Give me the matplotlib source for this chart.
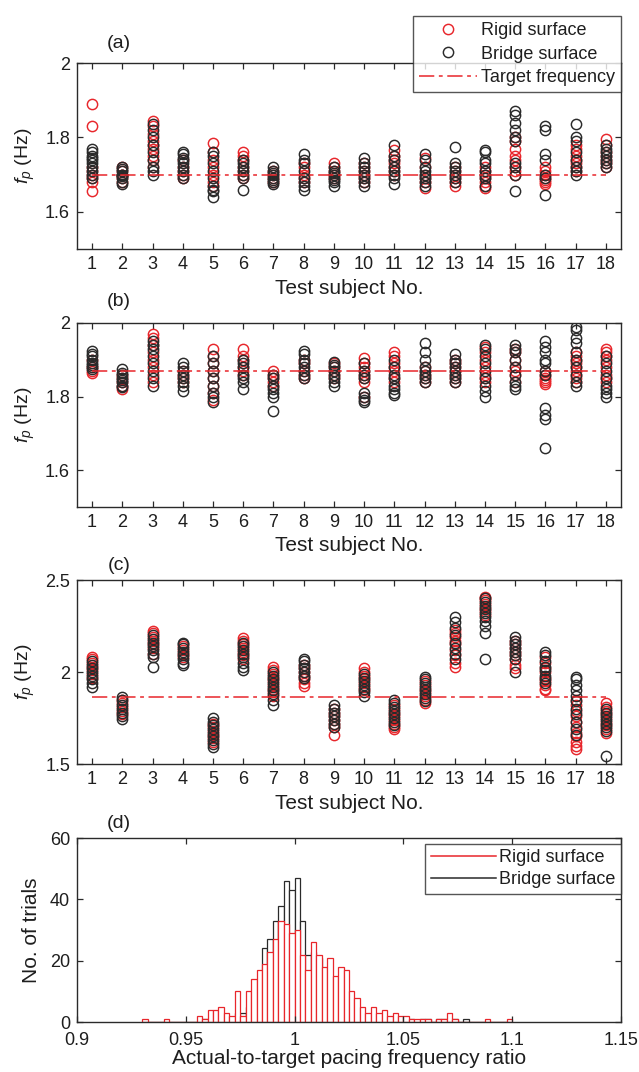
import matplotlib
matplotlib.use("Agg")
import matplotlib.pyplot as plt
from matplotlib.lines import Line2D
import numpy as np

plt.rcParams['font.family'] = ['Liberation Sans', 'DejaVu Sans']
plt.rcParams['mathtext.fontset'] = 'custom'
plt.rcParams['mathtext.it'] = 'Liberation Sans:italic'
plt.rcParams['mathtext.rm'] = 'Liberation Sans'
plt.rcParams['font.size'] = 13

RED = '#e8262b'
BLACK = '#2a2a2a'
TXT = '#1e1e1e'

subjects = list(range(1, 19))

# ---- panel (a): pacing frequency, target 1.70 Hz
a_target = 1.70
a_rigid = [
    [1.89, 1.83, 1.72, 1.70, 1.69, 1.68, 1.655, 1.71],
    [1.71, 1.70, 1.69, 1.70, 1.68, 1.72],
    [1.845, 1.83, 1.81, 1.79, 1.78, 1.77, 1.75, 1.74, 1.72],
    [1.74, 1.72, 1.71, 1.70, 1.69],
    [1.785, 1.76, 1.74, 1.72, 1.70, 1.68, 1.67],
    [1.76, 1.75, 1.74, 1.72, 1.71, 1.70, 1.69],
    [1.70, 1.69, 1.68, 1.71],
    [1.73, 1.72, 1.70, 1.69, 1.68],
    [1.73, 1.72, 1.71, 1.70, 1.69],
    [1.73, 1.72, 1.71, 1.70, 1.69, 1.68],
    [1.765, 1.75, 1.74, 1.73, 1.72, 1.71, 1.70],
    [1.745, 1.72, 1.70, 1.69, 1.68, 1.665],
    [1.72, 1.71, 1.70, 1.69, 1.68, 1.67],
    [1.72, 1.71, 1.70, 1.69, 1.68, 1.67, 1.665],
    [1.80, 1.79, 1.77, 1.75, 1.74, 1.72, 1.71, 1.70],
    [1.72, 1.71, 1.70, 1.69, 1.685, 1.68, 1.675],
    [1.78, 1.77, 1.75, 1.74, 1.73, 1.72, 1.71],
    [1.795, 1.78, 1.76, 1.75, 1.74, 1.73, 1.72],
]
a_bridge = [
    [1.77, 1.76, 1.75, 1.745, 1.74, 1.73, 1.72, 1.71, 1.70, 1.69],
    [1.72, 1.715, 1.71, 1.70, 1.695, 1.69, 1.68, 1.675, 1.70],
    [1.835, 1.82, 1.80, 1.78, 1.76, 1.74, 1.72, 1.71, 1.70],
    [1.76, 1.755, 1.745, 1.74, 1.73, 1.72, 1.71, 1.70, 1.69],
    [1.76, 1.75, 1.73, 1.71, 1.69, 1.67, 1.66, 1.655, 1.64],
    [1.74, 1.73, 1.72, 1.71, 1.70, 1.69, 1.66],
    [1.72, 1.71, 1.705, 1.70, 1.69, 1.685, 1.68, 1.675],
    [1.755, 1.74, 1.73, 1.71, 1.69, 1.68, 1.67, 1.66],
    [1.72, 1.71, 1.705, 1.70, 1.69, 1.685, 1.68, 1.67],
    [1.745, 1.73, 1.72, 1.71, 1.70, 1.69, 1.68, 1.67],
    [1.78, 1.75, 1.74, 1.72, 1.71, 1.70, 1.69, 1.675],
    [1.755, 1.74, 1.72, 1.71, 1.70, 1.69, 1.68, 1.67],
    [1.775, 1.73, 1.72, 1.71, 1.70, 1.69, 1.68],
    [1.765, 1.76, 1.74, 1.73, 1.71, 1.70, 1.69, 1.67],
    [1.87, 1.86, 1.84, 1.82, 1.80, 1.79, 1.73, 1.72, 1.70, 1.655],
    [1.83, 1.82, 1.755, 1.74, 1.70, 1.69, 1.645],
    [1.835, 1.80, 1.79, 1.76, 1.74, 1.72, 1.71, 1.70],
    [1.78, 1.77, 1.76, 1.75, 1.74, 1.73, 1.72],
]

# ---- panel (b): target 1.87 Hz
b_target = 1.87
b_rigid = [
    [1.90, 1.88, 1.87, 1.865],
    [1.86, 1.85, 1.84, 1.83, 1.82],
    [1.97, 1.96, 1.94, 1.92, 1.90, 1.88, 1.86, 1.84],
    [1.87, 1.86, 1.85, 1.84],
    [1.93, 1.91, 1.89, 1.87, 1.85, 1.83, 1.81, 1.79],
    [1.93, 1.91, 1.90, 1.88, 1.87, 1.86],
    [1.87, 1.86, 1.85, 1.84, 1.83],
    [1.90, 1.89, 1.87, 1.86, 1.85],
    [1.89, 1.88, 1.87, 1.86, 1.85],
    [1.905, 1.89, 1.88, 1.87, 1.86, 1.85, 1.84, 1.80],
    [1.92, 1.91, 1.89, 1.88, 1.87, 1.85, 1.84],
    [1.88, 1.87, 1.86, 1.85, 1.84],
    [1.90, 1.89, 1.88, 1.87, 1.86, 1.85, 1.84],
    [1.935, 1.92, 1.90, 1.88, 1.86, 1.85, 1.84],
    [1.93, 1.92, 1.90, 1.88, 1.87, 1.86, 1.84],
    [1.87, 1.86, 1.85, 1.845, 1.84, 1.835],
    [1.92, 1.91, 1.90, 1.89, 1.88, 1.87, 1.86, 1.85, 1.84],
    [1.93, 1.92, 1.91, 1.90, 1.88, 1.86, 1.85, 1.84],
]
b_bridge = [
    [1.925, 1.915, 1.91, 1.90, 1.89, 1.885, 1.88, 1.875],
    [1.875, 1.865, 1.86, 1.85, 1.845, 1.84, 1.83, 1.825],
    [1.95, 1.94, 1.93, 1.91, 1.89, 1.87, 1.85, 1.83],
    [1.89, 1.88, 1.87, 1.86, 1.85, 1.84, 1.83, 1.815],
    [1.91, 1.89, 1.87, 1.85, 1.83, 1.81, 1.80, 1.785],
    [1.90, 1.89, 1.88, 1.86, 1.85, 1.84, 1.82],
    [1.86, 1.85, 1.83, 1.82, 1.81, 1.80, 1.76],
    [1.925, 1.915, 1.90, 1.89, 1.88, 1.87, 1.86, 1.85],
    [1.895, 1.885, 1.88, 1.87, 1.86, 1.85, 1.84, 1.83],
    [1.89, 1.87, 1.86, 1.85, 1.81, 1.80, 1.79, 1.785],
    [1.90, 1.88, 1.86, 1.85, 1.83, 1.82, 1.81, 1.805],
    [1.945, 1.92, 1.90, 1.88, 1.87, 1.86, 1.85, 1.84],
    [1.915, 1.90, 1.89, 1.88, 1.87, 1.86, 1.85, 1.84],
    [1.94, 1.93, 1.91, 1.89, 1.87, 1.85, 1.83, 1.815, 1.80],
    [1.94, 1.93, 1.92, 1.90, 1.88, 1.86, 1.84, 1.83, 1.82],
    [1.95, 1.935, 1.92, 1.90, 1.89, 1.87, 1.86, 1.77, 1.75, 1.74, 1.66],
    [1.99, 1.98, 1.96, 1.945, 1.92, 1.90, 1.88, 1.86, 1.84, 1.83],
    [1.91, 1.89, 1.87, 1.85, 1.83, 1.82, 1.81, 1.80],
]

# ---- panel (c): target 1.87 Hz
c_target = 1.866
c_rigid = [
    [2.08, 2.07, 2.05, 2.03, 2.01, 1.99, 1.97],
    [1.85, 1.83, 1.81, 1.79, 1.77],
    [2.225, 2.21, 2.19, 2.17, 2.15, 2.13, 2.10],
    [2.14, 2.12, 2.10, 2.08],
    [1.72, 1.70, 1.68, 1.66, 1.64, 1.62],
    [2.185, 2.17, 2.15, 2.13, 2.11, 2.09, 2.07],
    [2.03, 2.01, 1.99, 1.97, 1.95, 1.93, 1.91, 1.89, 1.87],
    [2.04, 2.02, 2.00, 1.98, 1.96, 1.94, 1.925],
    [1.80, 1.78, 1.76, 1.74, 1.72, 1.70, 1.66],
    [2.02, 2.00, 1.98, 1.96, 1.94, 1.92, 1.90],
    [1.82, 1.80, 1.78, 1.76, 1.74, 1.72, 1.70, 1.69],
    [1.95, 1.93, 1.91, 1.89, 1.87, 1.85, 1.83],
    [2.23, 2.21, 2.19, 2.17, 2.15, 2.12, 2.09, 2.05, 2.03],
    [2.41, 2.40, 2.39, 2.37, 2.35, 2.33, 2.31],
    [2.17, 2.15, 2.13, 2.11, 2.09, 2.07, 2.04, 2.02],
    [2.08, 2.05, 2.02, 2.00, 1.97, 1.95, 1.93, 1.91, 1.90],
    [1.85, 1.82, 1.79, 1.76, 1.73, 1.70, 1.67, 1.65, 1.62, 1.60, 1.58],
    [1.83, 1.81, 1.79, 1.77, 1.75, 1.73, 1.71, 1.69, 1.67],
]
c_bridge = [
    [2.06, 2.04, 2.02, 2.00, 1.98, 1.96, 1.94, 1.92],
    [1.865, 1.85, 1.82, 1.80, 1.78, 1.76, 1.745],
    [2.20, 2.18, 2.16, 2.14, 2.12, 2.10, 2.08, 2.03],
    [2.16, 2.15, 2.13, 2.11, 2.09, 2.07, 2.05, 2.04],
    [1.75, 1.73, 1.71, 1.69, 1.67, 1.65, 1.63, 1.61, 1.59],
    [2.16, 2.14, 2.12, 2.10, 2.08, 2.05, 2.03, 2.01],
    [2.00, 1.98, 1.96, 1.94, 1.92, 1.90, 1.88, 1.85, 1.82],
    [2.07, 2.06, 2.04, 2.02, 2.00, 1.98, 1.97],
    [1.82, 1.80, 1.78, 1.76, 1.74, 1.72, 1.70],
    [1.99, 1.97, 1.95, 1.93, 1.91, 1.89, 1.87],
    [1.85, 1.83, 1.81, 1.79, 1.77, 1.75, 1.73, 1.71],
    [1.975, 1.96, 1.94, 1.92, 1.90, 1.88, 1.86, 1.84],
    [2.30, 2.27, 2.24, 2.20, 2.16, 2.13, 2.10, 2.07],
    [2.40, 2.38, 2.36, 2.34, 2.32, 2.30, 2.28, 2.25, 2.21, 2.07],
    [2.19, 2.17, 2.15, 2.13, 2.11, 2.09, 2.07, 2.00],
    [2.11, 2.09, 2.06, 2.03, 2.01, 1.98, 1.96, 1.94],
    [1.975, 1.96, 1.93, 1.90, 1.87, 1.84, 1.80, 1.77, 1.73, 1.69, 1.66],
    [1.80, 1.78, 1.76, 1.74, 1.72, 1.70, 1.68, 1.545],
]

# ---- panel (d): histogram of actual-to-target ratio, bins of 0.0025 starting at 0.93
bin_width = 0.0025
rigid_counts = [1, 0, 0, 0, 1, 0, 0, 0, 0, 0,
                2, 1, 4, 4, 5, 3, 2, 10, 2, 10,
                14, 17, 19, 23, 27, 33, 32, 29, 30, 22,
                17, 26, 22, 18, 21, 15, 18, 17, 10, 8,
                5, 3, 5, 3, 4, 2, 3, 2, 2, 1,
                1, 1, 1, 0, 1, 1, 3, 1, 0, 0,
                0, 0, 0, 1, 0, 0, 0, 1]
bridge_counts = [0, 0, 0, 0, 0, 0, 0, 0, 0, 0,
                 0, 1, 1, 2, 1, 2, 1, 3, 3, 5,
                 9, 9, 24, 27, 33, 38, 46, 43, 47, 33,
                 22, 23, 21, 15, 13, 7, 13, 10, 8, 4,
                 3, 2, 2, 1, 2, 1, 1, 1, 1, 1,
                 0, 1, 1, 0, 1, 1, 1, 1, 0, 1,
                 0, 0, 0, 0, 0, 0, 0, 0]
bin_lefts = 0.93 + bin_width * np.arange(len(rigid_counts))

fig = plt.figure(figsize=(6.39, 10.72), dpi=100)
L, W = 77 / 639, 544 / 639
rects = [(L, 0.7677, W, 0.1735), (L, 0.5271, W, 0.1716),
         (L, 0.2873, W, 0.1716), (L, 0.0466, W, 0.1716)]
axes = [fig.add_axes(r) for r in rects]

LABEL_FS = 15


def style(ax):
    for s in ax.spines.values():
        s.set_color(BLACK)
        s.set_linewidth(1.0)
    ax.tick_params(direction='in', top=True, right=True, length=4,
                   width=0.9, colors=BLACK, labelcolor=TXT, labelsize=13, pad=5)


dashdot = (0, (10, 3, 2.5, 3))
MS, MEW = 7.4, 1.05
panels = [(axes[0], a_rigid, a_bridge, a_target, (1.5, 2.0), [1.6, 1.8, 2.0], ['1.6', '1.8', '2']),
          (axes[1], b_rigid, b_bridge, b_target, (1.5, 2.0), [1.6, 1.8, 2.0], ['1.6', '1.8', '2']),
          (axes[2], c_rigid, c_bridge, c_target, (1.5, 2.5), [1.5, 2.0, 2.5], ['1.5', '2', '2.5'])]

for ax, rig, bri, tgt, ylim, yt, ytl in panels:
    for s, vals in zip(subjects, rig):
        ax.plot([s] * len(vals), vals, 'o', ms=MS, mfc='none', mec=RED, mew=MEW)
    for s, vals in zip(subjects, bri):
        ax.plot([s] * len(vals), vals, 'o', ms=MS, mfc='none', mec=BLACK, mew=MEW)
    ax.plot([subjects[0], subjects[-1]], [tgt, tgt], color=RED, lw=1.1, ls=dashdot)
    ax.set_xlim(0.5, 18.5)
    ax.set_ylim(*ylim)
    ax.set_xticks(subjects)
    ax.set_yticks(yt)
    ax.set_yticklabels(ytl)
    ax.set_xlabel('Test subject No.', fontsize=LABEL_FS, color=TXT, labelpad=4)
    ax.set_ylabel(r'$f_p$ (Hz)', fontsize=14, color=TXT, labelpad=6)
    style(ax)

handles = [Line2D([], [], marker='o', ls='none', ms=MS, mfc='none', mec=RED, mew=MEW),
           Line2D([], [], marker='o', ls='none', ms=MS, mfc='none', mec=BLACK, mew=MEW),
           Line2D([], [], color=RED, lw=1.1, ls=dashdot)]
leg = axes[0].legend(handles, ['Rigid surface', 'Bridge surface', 'Target frequency'],
                     loc='upper right', bbox_to_anchor=(1.0, 1.253), borderaxespad=0,
                     fontsize=13, frameon=True, fancybox=False, handlelength=3.2,
                     handletextpad=0.2, labelspacing=0.35, borderpad=0.35)
leg.get_frame().set_edgecolor(BLACK)
leg.get_frame().set_linewidth(1.0)
for t in leg.get_texts():
    t.set_color(TXT)

# histogram
axd = axes[3]
centers = bin_lefts + bin_width / 2
axd.bar(centers, bridge_counts, width=bin_width, facecolor='white', edgecolor=BLACK, linewidth=0.9)
axd.bar(centers, rigid_counts, width=bin_width, facecolor='white', edgecolor=RED, linewidth=0.9)
axd.set_xlim(0.9, 1.15)
axd.set_ylim(0, 60)
axd.set_xticks([0.9, 0.95, 1.0, 1.05, 1.1, 1.15])
axd.set_xticklabels(['0.9', '0.95', '1', '1.05', '1.1', '1.15'])
axd.set_yticks([0, 20, 40, 60])
axd.set_xlabel('Actual-to-target pacing frequency ratio', fontsize=LABEL_FS, color=TXT, labelpad=0)
axd.set_ylabel('No. of trials', fontsize=LABEL_FS, color=TXT, labelpad=6)
style(axd)
axd.tick_params(axis='x', pad=7)
hh = [Line2D([], [], color=RED, lw=1.1), Line2D([], [], color=BLACK, lw=1.1)]
leg2 = axd.legend(hh, ['Rigid surface', 'Bridge surface'], loc='upper right',
                  bbox_to_anchor=(1.0, 0.97), borderaxespad=0, fontsize=13,
                  fancybox=False, handlelength=3.6, handletextpad=0.2,
                  labelspacing=0.3, borderpad=0.3)
leg2.get_frame().set_edgecolor(BLACK)
leg2.get_frame().set_linewidth(1.0)
for t in leg2.get_texts():
    t.set_color(TXT)

for lab, y in [('(a)', 44), ('(b)', 302), ('(c)', 566), ('(d)', 824)]:
    fig.text(119 / 639, 1 - y / 1072, lab, ha='center', va='center', fontsize=14, color=TXT)

fig.savefig('out.png', dpi=100, facecolor='white')
